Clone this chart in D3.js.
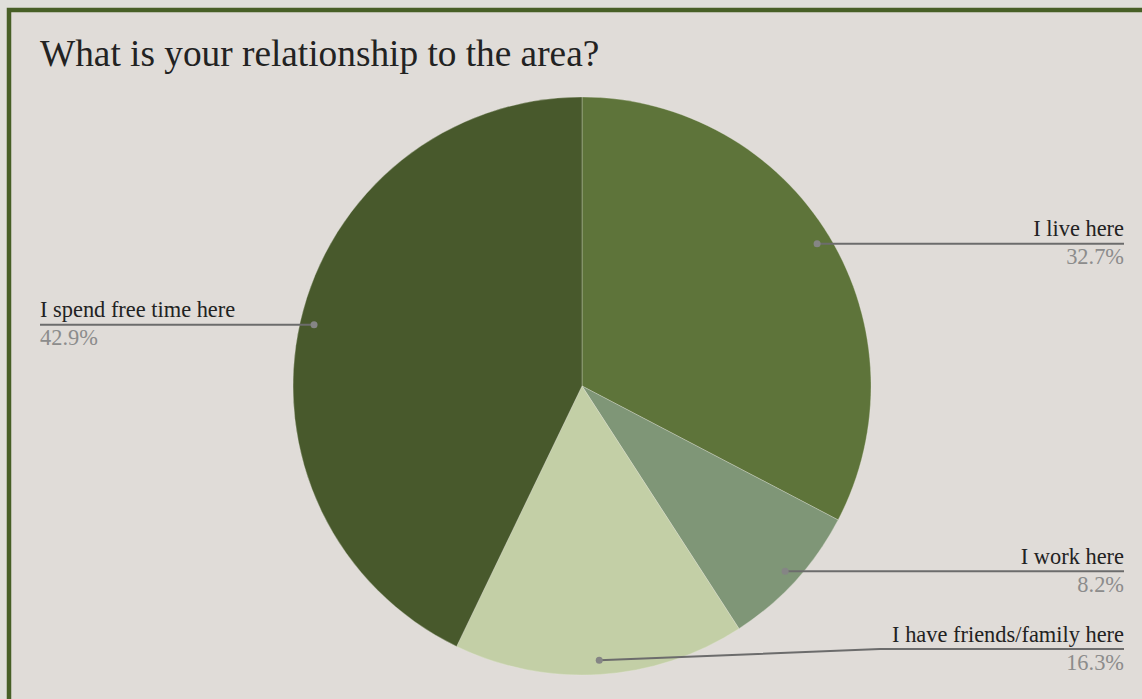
<!DOCTYPE html>
<html>
<head>
<meta charset="utf-8">
<script src="https://cdn.jsdelivr.net/npm/d3@7"></script>
<style>
  html, body { margin: 0; padding: 0; background: #dfdfda; }
  svg { display: block; }
</style>
</head>
<body>
<svg id="chart" width="1142" height="699"></svg>
<script>
// Survey answers: relationship to the area (share of respondents, %)
const categories = ["I live here", "I work here", "I have friends/family here", "I spend free time here"];
const values = [32.7, 8.2, 16.3, 42.9];
const percentLabels = ["32.7%", "8.2%", "16.3%", "42.9%"];
const colors = ["#5e743a", "#7f9677", "#c3cfa6", "#48592c"];

const W = 1142, H = 699;
const cx = 582, cy = 386, radius = 289;
const labelRightX = 1124, labelLeftX = 40;
const lowestLineY = 649;

const svg = d3.select("#chart");

// panel with dark green frame
svg.append("rect").attr("x", 0).attr("y", 0).attr("width", W).attr("height", H).attr("fill", "#dfdfda");
svg.append("rect").attr("x", 9).attr("y", 10).attr("width", W + 20).attr("height", H + 20)
  .attr("fill", "#e0dcd8").attr("stroke", "#475f26").attr("stroke-width", 4.5);

svg.append("text")
  .attr("x", 40).attr("y", 66)
  .attr("font-family", "'Liberation Serif', 'Times New Roman', serif")
  .attr("font-size", 37.3)
  .attr("fill", "#222")
  .text("What is your relationship to the area?");

const data = categories.map((c, i) => ({ name: c, value: values[i], label: percentLabels[i], color: colors[i] }));

const pie = d3.pie().value(d => d.value).sort(null);
const arcs = pie(data);
const arc = d3.arc().innerRadius(0).outerRadius(radius);
const dotArc = d3.arc().innerRadius(radius * 0.951).outerRadius(radius * 0.951);

const g = svg.append("g").attr("transform", `translate(${cx},${cy})`);

g.selectAll("path.slice")
  .data(arcs)
  .join("path")
  .attr("class", "slice")
  .attr("d", arc)
  .attr("fill", d => d.data.color)
  .attr("stroke", "rgba(235,235,225,0.3)")
  .attr("stroke-width", 1);

// leader lines and labels
const font = "'Liberation Serif', 'Times New Roman', serif";
arcs.forEach(a => {
  const [px, py] = dotArc.centroid(a);
  const dotX = cx + px, dotY = cy + py;
  const right = px > 0;
  const lineY = Math.min(dotY, lowestLineY);
  const endX = right ? labelRightX : labelLeftX;
  const pts = lineY < dotY
    ? [[dotX, dotY], [880, lineY], [endX, lineY]]
    : [[dotX, dotY], [endX, lineY]];

  svg.append("path")
    .attr("d", d3.line()(pts))
    .attr("fill", "none")
    .attr("stroke", "#6c6c6c")
    .attr("stroke-width", 2);

  svg.append("circle")
    .attr("cx", dotX).attr("cy", dotY).attr("r", 3.5)
    .attr("fill", "#858585");

  svg.append("text")
    .attr("x", endX).attr("y", lineY - 7.5)
    .attr("text-anchor", right ? "end" : "start")
    .attr("font-family", font).attr("font-size", 22.4)
    .attr("fill", "#222")
    .text(a.data.name);

  svg.append("text")
    .attr("x", endX).attr("y", lineY + 20.5)
    .attr("text-anchor", right ? "end" : "start")
    .attr("font-family", font).attr("font-size", 22.4)
    .attr("fill", "#8c8c8c")
    .text(a.data.label);
});
</script>
</body>
</html>
